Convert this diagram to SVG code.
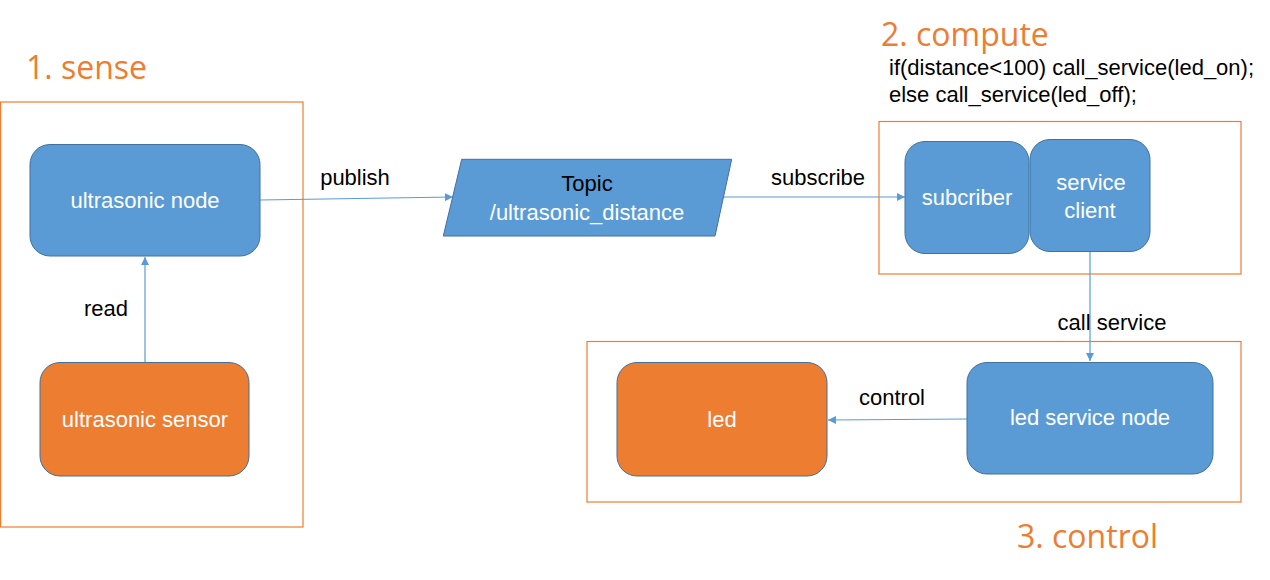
<svg xmlns="http://www.w3.org/2000/svg" width="1270" height="580" viewBox="0 0 1270 580">
<defs>
<style>
.grp{fill:none;stroke:#ED7D31;stroke-width:1.2}
.blue{fill:#5B9BD5;stroke:#41719C;stroke-width:1}
.org{fill:#ED7D31;stroke:#41719C;stroke-width:1}
.title{font-family:"Open Sans","Liberation Sans",sans-serif;font-size:32px;fill:#ED7D31}
.wt{font-family:"Liberation Sans",Arial,sans-serif;font-size:22px;fill:#FFFFFF;text-anchor:middle}
.bk{font-family:"Liberation Sans",Arial,sans-serif;font-size:22px;fill:#000000;text-anchor:middle}
.code{font-family:"Liberation Sans",Arial,sans-serif;font-size:22px;fill:#000000}
.conn{fill:none;stroke:#5B9BD5;stroke-width:1.2}
</style>
<marker id="arr" viewBox="0 0 10 10" refX="10" refY="5" markerWidth="8" markerHeight="8" markerUnits="userSpaceOnUse" orient="auto">
<path d="M0,0 L10,5 L0,10 z" fill="#5B9BD5"/>
</marker>
</defs>
<rect width="1270" height="580" fill="#FFFFFF"/>

<g id="group-sense">
<rect class="grp" x="0.6" y="102" width="302.4" height="425"/>
<text class="title" x="26" y="79">1. sense</text>
</g>
<g id="group-compute">
<rect class="grp" x="879" y="121.5" width="362" height="152.5"/>
<text class="title" x="881" y="46">2. compute</text>
<text class="code" x="889" y="75">if(distance&lt;100) call_service(led_on);</text>
<text class="code" x="889" y="102">else call_service(led_off);</text>
</g>
<g id="group-control">
<rect class="grp" x="587" y="341.5" width="654" height="160.5"/>
<text class="title" x="1017" y="548">3. control</text>
</g>

<g id="connectors">
<line class="conn" x1="145" y1="362" x2="145" y2="257" marker-end="url(#arr)"/>
<line class="conn" x1="260" y1="200" x2="453" y2="197" marker-end="url(#arr)"/>
<line class="conn" x1="720" y1="197" x2="905" y2="197" marker-end="url(#arr)"/>
<line class="conn" x1="1090" y1="251" x2="1090" y2="361" marker-end="url(#arr)"/>
<line class="conn" x1="967" y1="419" x2="828" y2="420" marker-end="url(#arr)"/>
<text class="bk" x="106" y="316">read</text>
<text class="bk" x="355" y="185">publish</text>
<text class="bk" x="818" y="185">subscribe</text>
<text class="bk" x="1112" y="330">call service</text>
<text class="bk" x="892" y="405">control</text>
</g>

<g id="node-ultrasonic-node">
<rect class="blue" x="30" y="144.5" width="230" height="111.5" rx="20"/>
<text class="wt" x="145" y="208">ultrasonic node</text>
</g>
<g id="node-ultrasonic-sensor">
<rect class="org" x="40" y="362.5" width="209" height="113.5" rx="20"/>
<text class="wt" x="145" y="427">ultrasonic sensor</text>
</g>
<g id="node-topic">
<path class="blue" d="M461.7,159.3 L731.7,159.3 L715,236 L443.3,236 Z"/>
<text class="bk" x="587" y="191">Topic</text>
<text class="wt" x="587" y="220">/ultrasonic_distance</text>
</g>
<g id="node-subcriber">
<rect class="blue" x="905" y="141.5" width="124" height="112" rx="20"/>
<text class="wt" x="967" y="205">subcriber</text>
</g>
<g id="node-service-client">
<rect class="blue" x="1030" y="139.5" width="120" height="112" rx="20"/>
<text class="wt" x="1091" y="190">service</text>
<text class="wt" x="1090" y="218">client</text>
</g>
<g id="node-led">
<rect class="org" x="617" y="362.5" width="210" height="113.5" rx="20"/>
<text class="wt" x="722" y="427">led</text>
</g>
<g id="node-led-service-node">
<rect class="blue" x="967" y="362.5" width="246" height="111.5" rx="20"/>
<text class="wt" x="1090" y="425">led service node</text>
</g>
</svg>
